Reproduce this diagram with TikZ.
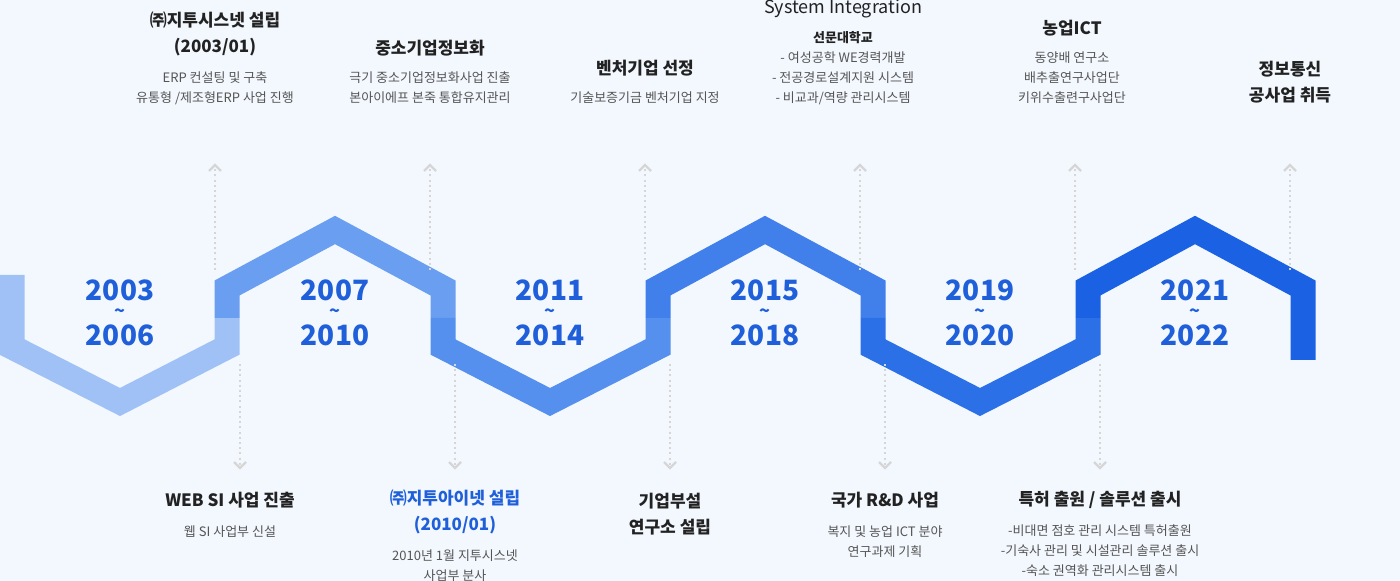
\documentclass[tikz,border=0pt]{standalone}
\usepackage{fontspec}
\setmainfont{Noto Sans CJK KR}
\usetikzlibrary{arrows.meta}
\definecolor{bgc}{HTML}{F3F8FE}
\definecolor{yearc}{HTML}{1F5FD9}
\definecolor{titlec}{HTML}{222222}
\definecolor{bodyc}{HTML}{555555}
\definecolor{dotc}{HTML}{D6D6D6}
\definecolor{bandA}{HTML}{A0C1F6}
\definecolor{bandB}{HTML}{6A9EF0}
\definecolor{bandC}{HTML}{5690EE}
\definecolor{bandD}{HTML}{4180EB}
\definecolor{bandE}{HTML}{2C70E8}
\definecolor{bandF}{HTML}{1A61E3}
\tikzset{
  band/.style={line width=12.5pt, line join=miter},
  year/.style={text=yearc, inner sep=0pt, font=\fontsize{14}{14}\selectfont\bfseries},
  tilde/.style={text=yearc, inner sep=0pt, font=\fontsize{9}{9}\selectfont\bfseries},
  title/.style={text=titlec, align=center, font=\fontsize{8.5}{13}\selectfont\bfseries},
  body/.style={text=bodyc, align=center, font=\fontsize{6.5}{10}\selectfont},
  dots/.style={dotc, line width=1pt, dash pattern=on 1pt off 1.6pt},
  tip/.style={dotc, line width=1.2pt}
}
\begin{document}
\begin{tikzpicture}[x=0.5pt, y=-0.5pt]
  \useasboundingbox[fill=bgc] (0,0) rectangle (1400,581);
  % zigzag band
  \draw[band, bandA] (12,275) -- (12,347) -- (120,402) -- (227,347) -- (227,318);
  \draw[band, bandB] (227,318) -- (227,288) -- (335,230) -- (443,288) -- (443,318);
  \draw[band, bandC] (443,318) -- (443,347) -- (550,402) -- (658,347) -- (658,318);
  \draw[band, bandD] (658,318) -- (658,288) -- (765,230) -- (873,288) -- (873,318);
  \draw[band, bandE] (873,318) -- (873,347) -- (980,402) -- (1088,347) -- (1088,318);
  \draw[band, bandF] (1088,318) -- (1088,288) -- (1195,230) -- (1303,288) -- (1303,360);
  % years
  \foreach \x/\ya/\yb in {120/2003/2006, 335/2007/2010, 550/2011/2014, 765/2015/2018, 980/2019/2020, 1195/2021/2022} {
    \node[year] (y\ya) at (\x,290) {\ya};
    \node[tilde] (t\ya) at (\x,313) {\char`~};
    \node[year] (e\ya) at (\x,335) {\yb};
  }
  % dotted pointers
  \foreach \x in {215,430,645,860,1075,1290} {
    \coordinate (up\x a) at (\x,270);
    \coordinate (up\x b) at (\x,165);
    \draw[dots] (up\x a) -- (up\x b);
    \draw[tip] (\x-6,171) -- (up\x b) -- (\x+6,171);
  }
  \foreach \x in {240,455,670,885,1100} {
    \coordinate (dn\x a) at (\x,364);
    \coordinate (dn\x b) at (\x,468);
    \draw[dots] (dn\x a) -- (dn\x b);
    \draw[tip] (\x-6,462) -- (dn\x b) -- (\x+6,462);
  }
  % upper texts
  \node[title] (s1) at (215,34) {㈜지투시스넷 설립\\(2003/01)};
  \node[body] (b1) at (215,88) {ERP 컨설팅 및 구축\\유통형 /제조형ERP 사업 진행};
  \node[title] (s2) at (430,48) {중소기업정보화};
  \node[body] (b2) at (430,88) {극기 중소기업정보화사업 진출\\본아이에프 본죽 통합유지관리};
  \node[title] (s3) at (645,68) {벤처기업 선정};
  \node[body] (b3) at (645,98) {기술보증기금 벤처기업 지정};
  \node[title, font=\fontsize{9}{13}\selectfont] (s4) at (843,9) {System Integration};
  \node[body, font=\fontsize{6.5}{10}\selectfont\bfseries, text=titlec] (c4) at (843,38) {선문대학교};
  \node[body] (b4) at (843,78) {- 여성공학 WE경력개발\\- 전공경로설계지원 시스템\\- 비교과/역량 관리시스템};
  \node[title] (s5) at (1072,28) {농업ICT};
  \node[body] (b5) at (1072,78) {동양배 연구소\\배추출연구사업단\\키위수출련구사업단};
  \node[title] (s6) at (1290,82) {정보통신\\공사업 취득};
  % lower texts
  \node[title] (s7) at (230,500) {WEB SI 사업 진출};
  \node[body] (b7) at (230,532) {웹 SI 사업부 신설};
  \node[title, text=yearc] (s8) at (455,512) {㈜지투아이넷 설립\\(2010/01)};
  \node[body] (b8) at (455,566) {2010년 1월 지투시스넷\\사업부 분사};
  \node[title] (s9) at (670,514) {기업부설\\연구소 설립};
  \node[title] (s10) at (885,500) {국가 R\&D 사업};
  \node[body] (b10) at (885,542) {복지 및 농업 ICT 분야\\연구과제 기획};
  \node[title] (s11) at (1100,500) {특허 출원 / 솔루션 출시};
  \node[body] (b11) at (1100,551) {-비대면 점호 관리 시스템 특허출원\\-기숙사 관리 및 시설관리 솔루션 출시\\-숙소 권역화 관리시스템 출시};
\end{tikzpicture}
\end{document}
